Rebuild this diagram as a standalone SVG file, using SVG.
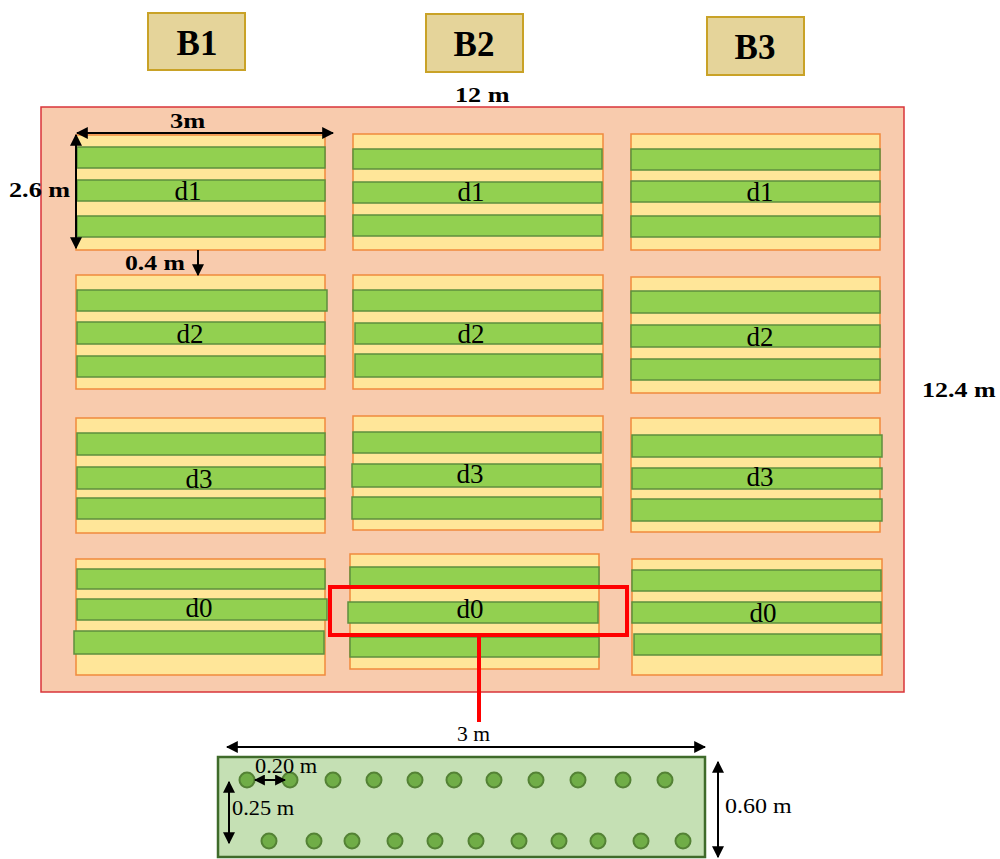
<svg xmlns="http://www.w3.org/2000/svg" width="1000" height="859" viewBox="0 0 1000 859">
<style>
.bbox{fill:#e5d49a;stroke:#c9a227;stroke-width:2}
.bt{font-family:"Liberation Serif","Times New Roman","DejaVu Serif","Noto Serif",serif;font-weight:bold;font-size:35px;fill:#000;text-anchor:middle}
.dim{font-family:"Liberation Serif","Times New Roman","DejaVu Serif","Noto Serif",serif;font-weight:bold;font-size:22px;fill:#000}
.plot{fill:#ffe699;stroke:#f08a3c;stroke-width:1.5}
.g{fill:#92d050;stroke:#5e8f3e;stroke-width:1.5}
.lab{font-family:"Liberation Serif","Times New Roman","DejaVu Serif","Noto Serif",serif;font-size:27px;fill:#000;text-anchor:middle}
.dl{font-family:"Liberation Serif","Times New Roman","DejaVu Serif","Noto Serif",serif;font-size:20px;fill:#000}
.dot{fill:#70ad47;stroke:#548235;stroke-width:2}
.ar{stroke:#000;stroke-width:2;fill:none}
</style>
<defs>
<marker id="ah" viewBox="0 0 10 10" refX="9" refY="5" markerWidth="11" markerHeight="11" orient="auto-start-reverse" markerUnits="userSpaceOnUse">
<path d="M0,0 L10,5 L0,10 z" fill="#000"/>
</marker>
<marker id="ahs" viewBox="0 0 10 10" refX="9" refY="5" markerWidth="12" markerHeight="12" orient="auto-start-reverse" markerUnits="userSpaceOnUse">
<path d="M0,0 L10,5 L0,10 z" fill="#000"/>
</marker>
</defs>

<g id="blocks">
<g id="B1"><rect class="bbox" x="148" y="13" width="97" height="57"/><text class="bt" x="197" y="55">B1</text></g>
<g id="B2"><rect class="bbox" x="426" y="14" width="97" height="58"/><text class="bt" x="474" y="56">B2</text></g>
<g id="B3"><rect class="bbox" x="707" y="17" width="97" height="58"/><text class="bt" x="755" y="59">B3</text></g>
</g>

<g id="field">
<rect x="41" y="107" width="863" height="585" fill="#f8cbad" stroke="#d9343a" stroke-width="1.5"/>
</g>

<g id="plots">
<g id="B1-d1"><rect class="plot" x="76" y="135" width="249" height="115"/><rect class="g" x="77" y="147" width="248" height="21"/><rect class="g" x="77" y="180" width="248" height="21"/><rect class="g" x="77" y="216" width="248" height="21"/><text class="lab" x="188" y="200">d1</text></g>
<g id="B2-d1"><rect class="plot" x="353" y="134" width="250" height="116"/><rect class="g" x="353" y="149" width="249" height="20"/><rect class="g" x="353" y="182" width="249" height="21"/><rect class="g" x="353" y="215" width="249" height="21"/><text class="lab" x="471" y="201">d1</text></g>
<g id="B3-d1"><rect class="plot" x="631" y="134" width="249" height="116"/><rect class="g" x="631" y="149" width="249" height="21"/><rect class="g" x="631" y="181" width="249" height="21"/><rect class="g" x="631" y="216" width="249" height="21"/><text class="lab" x="760" y="201">d1</text></g>

<g id="B1-d2"><rect class="plot" x="76" y="275" width="249" height="114"/><rect class="g" x="77" y="290" width="250" height="21"/><rect class="g" x="77" y="322" width="248" height="22"/><rect class="g" x="77" y="356" width="248" height="21"/><text class="lab" x="190" y="343">d2</text></g>
<g id="B2-d2"><rect class="plot" x="353" y="275" width="250" height="114"/><rect class="g" x="353" y="290" width="249" height="21"/><rect class="g" x="355" y="323" width="247" height="21"/><rect class="g" x="355" y="354" width="247" height="23"/><text class="lab" x="471" y="343">d2</text></g>
<g id="B3-d2"><rect class="plot" x="631" y="277" width="249" height="116"/><rect class="g" x="631" y="291" width="249" height="22"/><rect class="g" x="631" y="325" width="249" height="22"/><rect class="g" x="631" y="359" width="249" height="21"/><text class="lab" x="760" y="346">d2</text></g>

<g id="B1-d3"><rect class="plot" x="76" y="418" width="249" height="115"/><rect class="g" x="77" y="433" width="248" height="22"/><rect class="g" x="77" y="467" width="248" height="22"/><rect class="g" x="77" y="498" width="248" height="21"/><text class="lab" x="199" y="488">d3</text></g>
<g id="B2-d3"><rect class="plot" x="353" y="416" width="250" height="114"/><rect class="g" x="353" y="432" width="248" height="21"/><rect class="g" x="352" y="464" width="249" height="23"/><rect class="g" x="352" y="497" width="249" height="22"/><text class="lab" x="470" y="483">d3</text></g>
<g id="B3-d3"><rect class="plot" x="631" y="418" width="249" height="114"/><rect class="g" x="632" y="435" width="250" height="22"/><rect class="g" x="632" y="468" width="250" height="21"/><rect class="g" x="632" y="499" width="250" height="22"/><text class="lab" x="760" y="486">d3</text></g>

<g id="B1-d0"><rect class="plot" x="76" y="559" width="249" height="116"/><rect class="g" x="77" y="569" width="248" height="20"/><rect class="g" x="77" y="599" width="250" height="21"/><rect class="g" x="74" y="631" width="250" height="23"/><text class="lab" x="199" y="617">d0</text></g>
<g id="B2-d0"><rect class="plot" x="350" y="554" width="249" height="115"/><rect class="g" x="350" y="567" width="249" height="20"/><rect class="g" x="348" y="602" width="250" height="21"/><rect class="g" x="350" y="637" width="249" height="20"/><text class="lab" x="470" y="618">d0</text></g>
<g id="B3-d0"><rect class="plot" x="632" y="559" width="250" height="116"/><rect class="g" x="632" y="570" width="249" height="21"/><rect class="g" x="632" y="602" width="249" height="21"/><rect class="g" x="634" y="634" width="247" height="21"/><text class="lab" x="763" y="622">d0</text></g>
</g>

<g id="dimensions">
<text class="dim" transform="translate(455,102) scale(1.19,1)">12 m</text>
<text class="dim" transform="translate(922,397) scale(1.18,1)">12.4 m</text>
<text class="dim" transform="translate(170,128) scale(1.2,1)">3m</text>
<text class="dim" transform="translate(9,197) scale(1.19,1)">2.6 m</text>
<text class="dim" transform="translate(125,270) scale(1.17,1)">0.4 m</text>
<line class="ar" x1="77" y1="133" x2="333" y2="133" marker-start="url(#ahs)" marker-end="url(#ahs)"/>
<line class="ar" x1="76" y1="135" x2="76" y2="248" marker-start="url(#ahs)" marker-end="url(#ahs)"/>
<line class="ar" x1="198" y1="250" x2="198" y2="275" marker-end="url(#ahs)"/>
</g>

<g id="connectors">
<rect x="330" y="587" width="297" height="48" fill="none" stroke="#ff0000" stroke-width="4"/>
<line x1="479" y1="635" x2="479" y2="722" stroke="#ff0000" stroke-width="4"/>
</g>

<g id="detail">
<rect x="218" y="757" width="487" height="100" fill="#c5e0b4" stroke="#3f6b2a" stroke-width="2.5"/>
<g id="dots-top">
<circle class="dot" cx="247" cy="780" r="7.5"/><circle class="dot" cx="290" cy="780" r="7.5"/><circle class="dot" cx="333" cy="780" r="7.5"/><circle class="dot" cx="374" cy="780" r="7.5"/><circle class="dot" cx="415" cy="780" r="7.5"/><circle class="dot" cx="454" cy="780" r="7.5"/><circle class="dot" cx="494" cy="780" r="7.5"/><circle class="dot" cx="536" cy="780" r="7.5"/><circle class="dot" cx="578" cy="780" r="7.5"/><circle class="dot" cx="623" cy="780" r="7.5"/><circle class="dot" cx="665" cy="780" r="7.5"/>
</g>
<g id="dots-bottom">
<circle class="dot" cx="269" cy="841" r="7.5"/><circle class="dot" cx="314" cy="841" r="7.5"/><circle class="dot" cx="352" cy="841" r="7.5"/><circle class="dot" cx="395" cy="841" r="7.5"/><circle class="dot" cx="435" cy="841" r="7.5"/><circle class="dot" cx="476" cy="841" r="7.5"/><circle class="dot" cx="519" cy="841" r="7.5"/><circle class="dot" cx="559" cy="841" r="7.5"/><circle class="dot" cx="598" cy="841" r="7.5"/><circle class="dot" cx="641" cy="841" r="7.5"/><circle class="dot" cx="683" cy="841" r="7.5"/>
</g>
<line class="ar" x1="227" y1="747" x2="705" y2="747" stroke-width="1.5" marker-start="url(#ahs)" marker-end="url(#ahs)"/>
<text class="dl" transform="translate(457,741) scale(1.08,1)">3 m</text>
<line class="ar" x1="255" y1="780" x2="285" y2="780" stroke-width="2.5" marker-start="url(#ah)" marker-end="url(#ah)"/>
<text class="dl" transform="translate(255,773) scale(1.12,1)">0.20 m</text>
<line class="ar" x1="229" y1="782" x2="229" y2="843" stroke-width="1.5" marker-start="url(#ahs)" marker-end="url(#ahs)"/>
<text class="dl" transform="translate(232,815) scale(1.12,1)">0.25 m</text>
<line class="ar" x1="718" y1="762" x2="718" y2="857" stroke-width="1.5" marker-start="url(#ahs)" marker-end="url(#ahs)"/>
<text class="dl" transform="translate(725,813) scale(1.2,1)">0.60 m</text>
</g>
</svg>
